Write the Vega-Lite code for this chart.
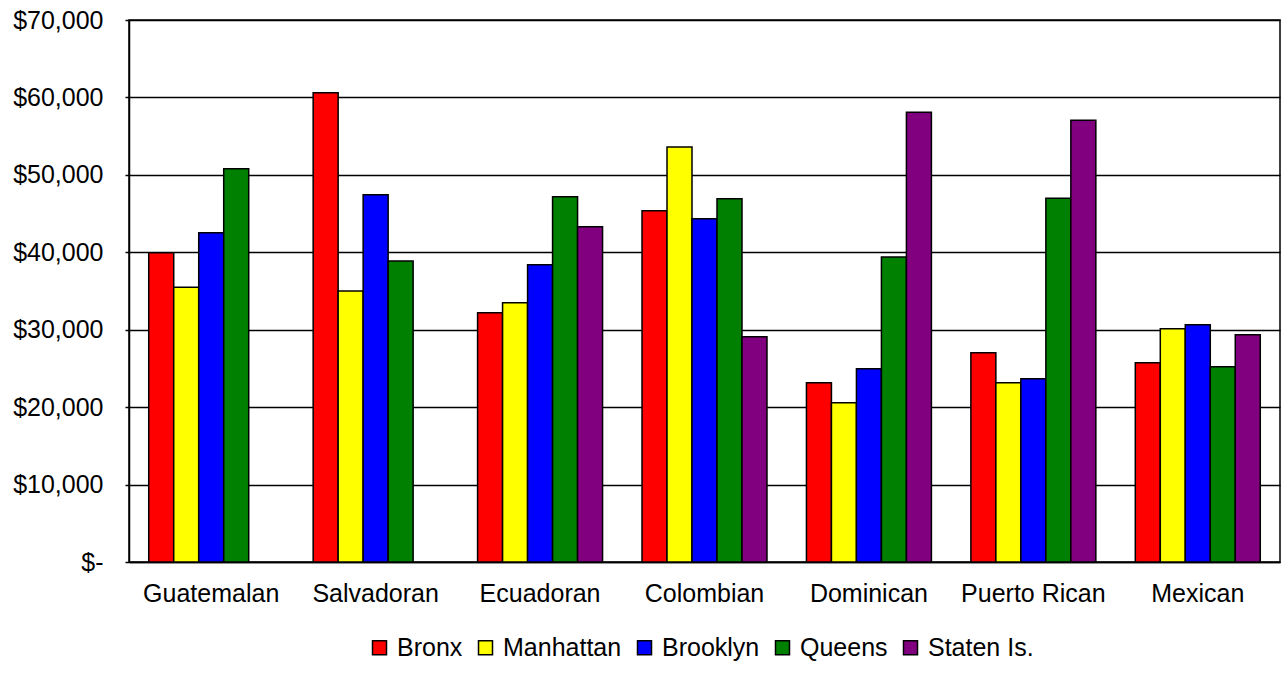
{
  "$schema": "https://vega.github.io/schema/vega-lite/v6.json",
  "autosize": {"type": "none"},
  "width": 1151,
  "height": 542,
  "padding": {"left": 129, "top": 20, "right": 1, "bottom": 119},
  "background": "white",
  "config": {
    "font": "Liberation Sans",
    "view": {"stroke": "black", "strokeWidth": 1.5}
  },
  "data": {
    "values": [
      {"group": "Guatemalan", "borough": "Bronx", "income": 39950},
      {"group": "Guatemalan", "borough": "Manhattan", "income": 35500},
      {"group": "Guatemalan", "borough": "Brooklyn", "income": 42530},
      {"group": "Guatemalan", "borough": "Queens", "income": 50800},
      {"group": "Salvadoran", "borough": "Bronx", "income": 60600},
      {"group": "Salvadoran", "borough": "Manhattan", "income": 35000},
      {"group": "Salvadoran", "borough": "Brooklyn", "income": 47440},
      {"group": "Salvadoran", "borough": "Queens", "income": 38870},
      {"group": "Ecuadoran", "borough": "Bronx", "income": 32200},
      {"group": "Ecuadoran", "borough": "Manhattan", "income": 33490},
      {"group": "Ecuadoran", "borough": "Brooklyn", "income": 38400},
      {"group": "Ecuadoran", "borough": "Queens", "income": 47180},
      {"group": "Ecuadoran", "borough": "Staten Is.", "income": 43300},
      {"group": "Colombian", "borough": "Bronx", "income": 45370},
      {"group": "Colombian", "borough": "Manhattan", "income": 53600},
      {"group": "Colombian", "borough": "Brooklyn", "income": 44340},
      {"group": "Colombian", "borough": "Queens", "income": 46920},
      {"group": "Colombian", "borough": "Staten Is.", "income": 29100},
      {"group": "Dominican", "borough": "Bronx", "income": 23160},
      {"group": "Dominican", "borough": "Manhattan", "income": 20570},
      {"group": "Dominican", "borough": "Brooklyn", "income": 24970},
      {"group": "Dominican", "borough": "Queens", "income": 39390},
      {"group": "Dominican", "borough": "Staten Is.", "income": 58080},
      {"group": "Puerto Rican", "borough": "Bronx", "income": 27030},
      {"group": "Puerto Rican", "borough": "Manhattan", "income": 23160},
      {"group": "Puerto Rican", "borough": "Brooklyn", "income": 23670},
      {"group": "Puerto Rican", "borough": "Queens", "income": 46970},
      {"group": "Puerto Rican", "borough": "Staten Is.", "income": 57040},
      {"group": "Mexican", "borough": "Bronx", "income": 25740},
      {"group": "Mexican", "borough": "Manhattan", "income": 30130},
      {"group": "Mexican", "borough": "Brooklyn", "income": 30650},
      {"group": "Mexican", "borough": "Queens", "income": 25220},
      {"group": "Mexican", "borough": "Staten Is.", "income": 29350}
    ]
  },
  "mark": {"type": "bar", "stroke": "black", "strokeWidth": 1.5},
  "encoding": {
    "x": {
      "field": "group",
      "type": "nominal",
      "sort": ["Guatemalan", "Salvadoran", "Ecuadoran", "Colombian", "Dominican", "Puerto Rican", "Mexican"],
      "scale": {"paddingInner": 0.24, "paddingOuter": 0.12},
      "axis": {
        "title": null,
        "labelAngle": 0,
        "labelFontSize": 25,
        "labelColor": "black",
        "labelPadding": 19,
        "ticks": false,
        "domainColor": "black",
        "domainWidth": 1.5
      }
    },
    "xOffset": {
      "field": "borough",
      "type": "nominal",
      "sort": ["Bronx", "Manhattan", "Brooklyn", "Queens", "Staten Is."],
      "scale": {"paddingInner": 0, "paddingOuter": 0}
    },
    "y": {
      "field": "income",
      "type": "quantitative",
      "scale": {"domain": [0, 70000], "nice": false},
      "axis": {
        "title": null,
        "values": [0, 10000, 20000, 30000, 40000, 50000, 60000, 70000],
        "labelExpr": "datum.value == 0 ? '$-' : '$' + format(datum.value, ',')",
        "labelFontSize": 25,
        "labelColor": "black",
        "labelPadding": 22,
        "tickSize": 4,
        "tickColor": "black",
        "tickWidth": 1.5,
        "domainColor": "black",
        "domainWidth": 1.5,
        "grid": true,
        "gridColor": "black",
        "gridWidth": 1.5,
        "gridOpacity": 1
      }
    },
    "color": {
      "field": "borough",
      "type": "nominal",
      "sort": ["Bronx", "Manhattan", "Brooklyn", "Queens", "Staten Is."],
      "scale": {
        "domain": ["Bronx", "Manhattan", "Brooklyn", "Queens", "Staten Is."],
        "range": ["#FF0000", "#FFFF00", "#0000FF", "#008000", "#800080"]
      },
      "legend": {
        "title": null,
        "orient": "none",
        "direction": "horizontal",
        "legendX": 238,
        "legendY": 615,
        "symbolType": "square",
        "symbolSize": 196,
        "symbolStrokeColor": "black",
        "symbolStrokeWidth": 1.5,
        "symbolOpacity": 1,
        "labelFontSize": 25,
        "labelColor": "black",
        "labelOffset": 5,
        "columnPadding": 10
      }
    }
  }
}
